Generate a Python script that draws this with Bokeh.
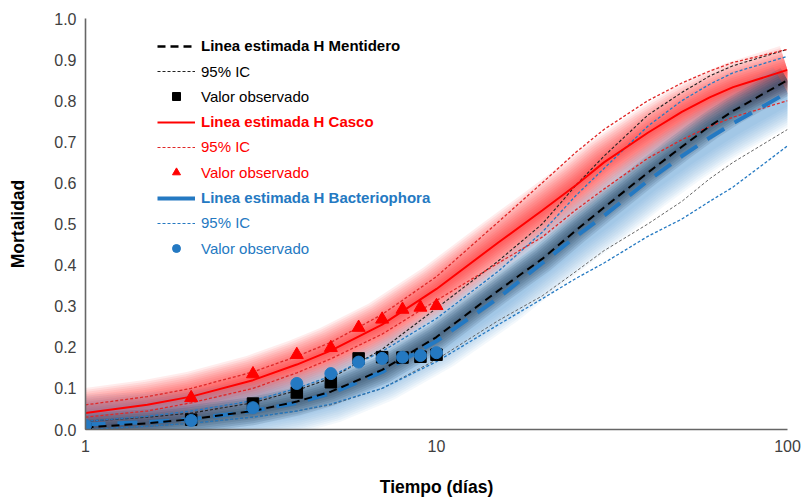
from bokeh.plotting import figure
from bokeh.models import (Legend, LegendItem, FixedTicker, NumeralTickFormatter, Range1d)
from bokeh.embed import file_html
from bokeh.resources import INLINE

# ---------------- data ----------------
days = [1, 2, 3, 4, 5, 6, 7, 8, 9, 10]
mentidero_obs = [0.0, 0.024, 0.063, 0.09, 0.115, 0.173, 0.176, 0.175, 0.177, 0.182]
bacterio_obs = [0.01, 0.022, 0.053, 0.112, 0.136, 0.164, 0.173, 0.176, 0.18, 0.187]
casco_days = [2, 3, 4, 5, 6, 7, 8, 9, 10]
casco_obs = [0.077, 0.135, 0.182, 0.199, 0.248, 0.268, 0.292, 0.297, 0.301]

t = [1, 1.5, 2, 3, 4, 5, 7, 10, 15, 20, 25, 30, 40, 50, 60, 70, 100]
casco_est = [0.040, 0.060, 0.080, 0.120, 0.158, 0.192, 0.255, 0.342, 0.455, 0.533, 0.595, 0.650, 0.722, 0.773, 0.808, 0.833, 0.875]
casco_hi = [0.060, 0.080, 0.100, 0.140, 0.178, 0.212, 0.280, 0.372, 0.505, 0.600, 0.675, 0.730, 0.800, 0.843, 0.872, 0.893, 0.925]
casco_lo = [0.030, 0.045, 0.065, 0.100, 0.138, 0.172, 0.232, 0.314, 0.405, 0.468, 0.535, 0.585, 0.660, 0.705, 0.737, 0.760, 0.800]
ment_est = [0.005, 0.015, 0.025, 0.045, 0.068, 0.092, 0.145, 0.225, 0.338, 0.415, 0.485, 0.540, 0.625, 0.688, 0.738, 0.775, 0.850]
ment_hi = [0.020, 0.030, 0.040, 0.065, 0.095, 0.125, 0.195, 0.295, 0.410, 0.500, 0.595, 0.665, 0.765, 0.820, 0.860, 0.885, 0.925]
ment_lo = [0.000, 0.008, 0.015, 0.030, 0.045, 0.060, 0.100, 0.170, 0.265, 0.325, 0.385, 0.435, 0.500, 0.555, 0.610, 0.650, 0.730]
bact_est = [0.012, 0.018, 0.025, 0.045, 0.065, 0.088, 0.140, 0.215, 0.320, 0.405, 0.470, 0.520, 0.605, 0.665, 0.710, 0.745, 0.820]
bact_hi = [0.020, 0.032, 0.045, 0.070, 0.100, 0.130, 0.190, 0.270, 0.385, 0.480, 0.570, 0.635, 0.738, 0.800, 0.840, 0.868, 0.908]
bact_lo = [0.000, 0.008, 0.015, 0.030, 0.045, 0.062, 0.100, 0.165, 0.255, 0.318, 0.368, 0.405, 0.470, 0.512, 0.555, 0.590, 0.690]

x_ticks = [1, 10, 100]
y_ticks = [0.0, 0.1, 0.2, 0.3, 0.4, 0.5, 0.6, 0.7, 0.8, 0.9, 1.0]

legend_labels = ["Linea estimada H Mentidero", "95% IC", "Valor observado",
                 "Linea estimada H Casco", "95% IC", "Valor observado",
                 "Linea estimada H Bacteriophora", "95% IC", "Valor observado"]

RED = "#ff0000"
RED_CI = "#e02828"
BLUE = "#2479c2"
BLACK = "#000000"
FONT = "Liberation Sans"
NAN = float("nan")

p = figure(width=803, height=500, x_axis_type="log", output_backend="svg",
           toolbar_location=None, x_range=Range1d(1, 100), y_range=Range1d(0, 1),
           min_border_left=85, min_border_right=16, min_border_top=18, min_border_bottom=71)
p.outline_line_color = None
p.xgrid.grid_line_color = None
p.ygrid.grid_line_color = None
p.background_fill_color = "white"

# ---------------- glows ----------------
for w in range(50, 2, -4):
    p.line(t, casco_est, line_width=w, line_color=RED, line_alpha=0.075, line_join="round")
for w in range(60, 22, -4):
    p.line(t, bact_est, line_width=w, line_color="#4a90d0", line_alpha=0.065, line_join="round")
for w in range(28, 2, -4):
    p.line(t, ment_est, line_width=w, line_color="#15304a", line_alpha=0.12, line_join="round")

# ---------------- lines ----------------
r_ment_lo = p.line(t, ment_lo, line_color="#555555", line_width=0.9, line_dash="3 2")
r_ment_hi = p.line(t, ment_hi, line_color="#222222", line_width=1.1, line_dash="3 2")
r_bact_lo = p.line(t, bact_lo, line_color=BLUE, line_width=1.3, line_dash="3 2")
r_bact_hi = p.line(t, bact_hi, line_color=BLUE, line_width=1.3, line_dash="3 2")
r_casco_lo = p.line(t, casco_lo, line_color=RED_CI, line_width=1.3, line_dash="3 2")
r_casco_hi = p.line(t, casco_hi, line_color=RED_CI, line_width=1.3, line_dash="3 2")
r_bact = p.line(t, bact_est, line_color=BLUE, line_width=4, line_dash="20 12")
r_ment = p.line(t, ment_est, line_color=BLACK, line_width=2, line_dash="8 5")
r_casco = p.line(t, casco_est, line_color=RED, line_width=2)

# ---------------- markers ----------------
p.scatter(days, mentidero_obs, marker="square", size=11.5, fill_color=BLACK, line_color=BLACK)
p.scatter(casco_days, casco_obs, marker="triangle", size=13, fill_color=RED, line_color=RED)
p.scatter(days, bacterio_obs, marker="circle", size=12, fill_color=BLUE, line_color=BLUE)

# ---------------- legend proxies (NaN data: never drawn in the plot) ----------------
lg_ment = p.line([NAN], [NAN], line_color=BLACK, line_width=2.5, line_dash="8 5")
lg_ment_ci = p.line([NAN], [NAN], line_color="#222222", line_width=1.1, line_dash="3 2")
lg_ment_obs = p.scatter([NAN], [NAN], marker="square", size=9, fill_color=BLACK, line_color=BLACK)
lg_casco = p.line([NAN], [NAN], line_color=RED, line_width=2)
lg_casco_ci = p.line([NAN], [NAN], line_color=RED_CI, line_width=1.2, line_dash="3 2")
lg_casco_obs = p.scatter([NAN], [NAN], marker="triangle", size=9, fill_color=RED, line_color=RED)
lg_bact = p.line([NAN], [NAN], line_color=BLUE, line_width=4)
lg_bact_ci = p.line([NAN], [NAN], line_color=BLUE, line_width=1.2, line_dash="3 2")
lg_bact_obs = p.scatter([NAN], [NAN], marker="circle", size=9, fill_color=BLUE, line_color=BLUE)

legend_renderers = [lg_ment, lg_ment_ci, lg_ment_obs, lg_casco, lg_casco_ci, lg_casco_obs,
                    lg_bact, lg_bact_ci, lg_bact_obs]
legend_colors = [BLACK, BLACK, BLACK, RED, RED, RED, BLUE, BLUE, BLUE]
legend_styles = ["bold", "normal", "normal"] * 3

frame_h = 411
for i, (lab, rr, col, st) in enumerate(zip(legend_labels, legend_renderers, legend_colors, legend_styles)):
    lg = Legend(items=[LegendItem(label=lab, renderers=[rr], index=0)],
                location=(72, frame_h - 26.7 - 25.3 * i - 11),
                padding=0, margin=0, spacing=0, border_line_color=None,
                background_fill_alpha=0, glyph_width=38, glyph_height=20, label_height=20,
                label_standoff=6, label_text_font=FONT, label_text_font_size="15px",
                label_text_color=col, label_text_font_style=st, label_text_baseline="middle")
    p.add_layout(lg)

# ---------------- axes ----------------
p.xaxis.ticker = FixedTicker(ticks=x_ticks, minor_ticks=[])
p.xaxis.formatter = NumeralTickFormatter(format="0")
p.yaxis.ticker = FixedTicker(ticks=y_ticks, minor_ticks=[])
p.yaxis.formatter = NumeralTickFormatter(format="0.0")
for ax in [p.xaxis, p.yaxis]:
    ax.axis_line_color = "#666666"
    ax.axis_line_width = 1.6
    ax.major_tick_out = 0
    ax.major_tick_in = 0
    ax.minor_tick_out = 0
    ax.minor_tick_in = 0
    ax.major_label_text_font = FONT
    ax.major_label_text_font_size = "16px"
    ax.major_label_text_color = "#404040"
    ax.axis_label_text_font = FONT
    ax.axis_label_text_font_size = "17.5px"
    ax.axis_label_text_font_style = "bold"
    ax.axis_label_text_color = "#000000"
p.xaxis.axis_label = "Tiempo (días)"
p.yaxis.axis_label = "Mortalidad"
p.xaxis.major_label_standoff = 10
p.yaxis.major_label_standoff = 9
p.xaxis.axis_label_standoff = 22
p.yaxis.axis_label_standoff = 23

open("out.html", "w").write(file_html(p, INLINE))
